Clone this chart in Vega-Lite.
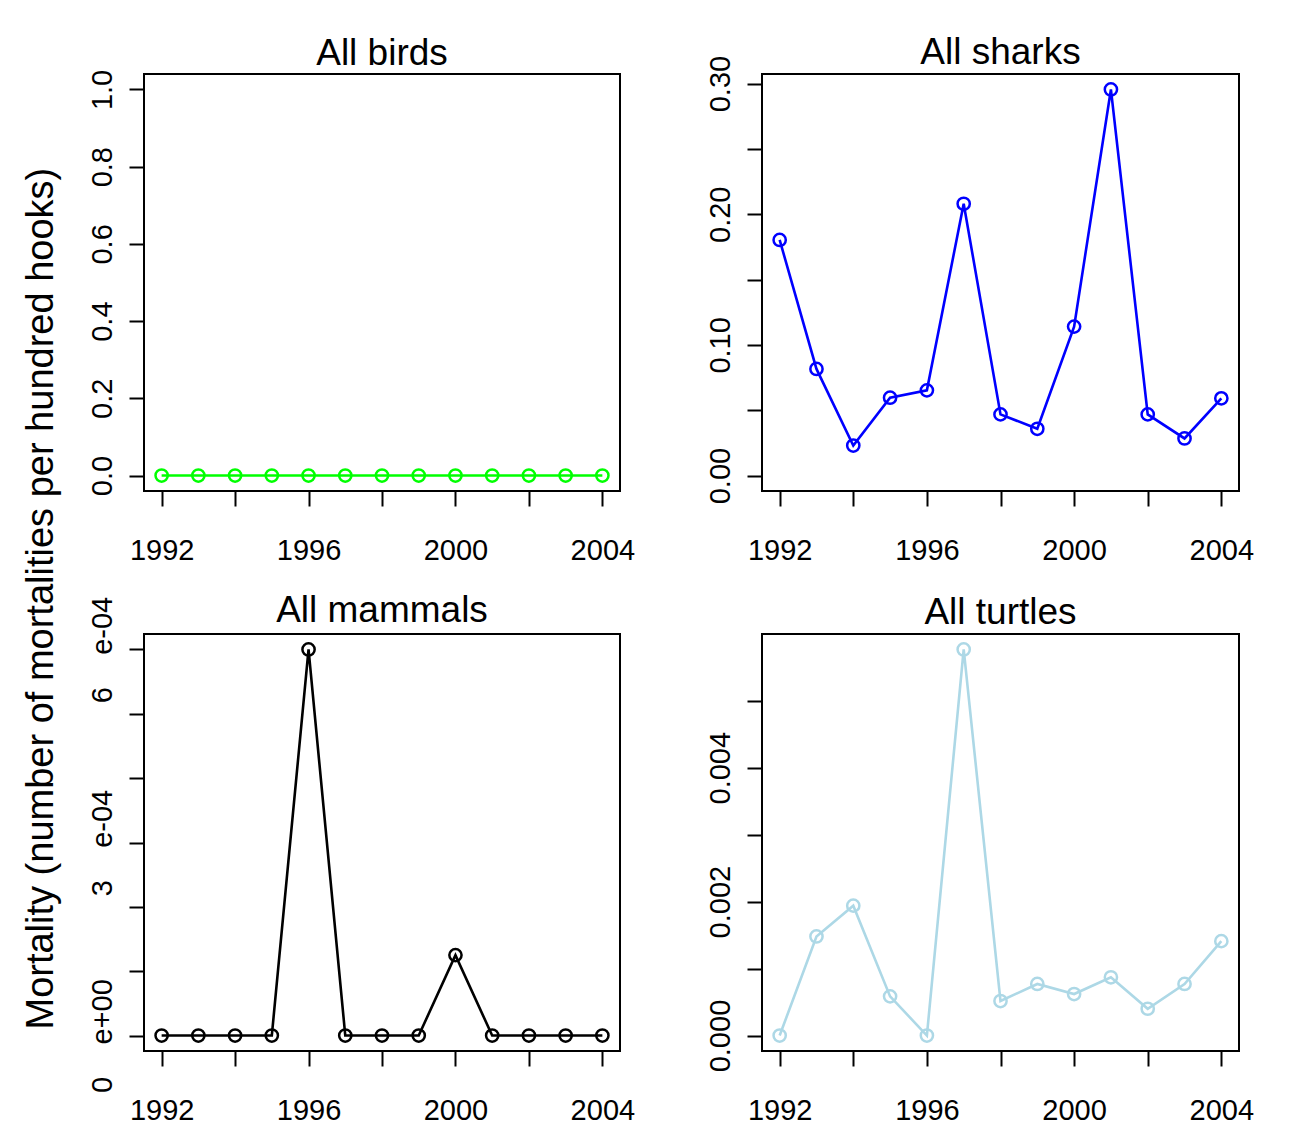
{
  "$schema": "https://vega.github.io/schema/vega-lite/v6.json",
  "background": "white",
  "padding": {"left": 22, "top": 33, "right": 5, "bottom": 0},
  "title": {"text": "Mortality (number of mortalities per hundred hooks)", "orient": "left", "anchor": "middle", "fontSize": 38, "font": "Liberation Sans", "fontWeight": "normal", "color": "black", "offset": 26, "dx": -19},
  "data": {"values": [
    {"panel": "birds", "year": 1992, "value": 0}, {"panel": "birds", "year": 1993, "value": 0}, {"panel": "birds", "year": 1994, "value": 0}, {"panel": "birds", "year": 1995, "value": 0}, {"panel": "birds", "year": 1996, "value": 0}, {"panel": "birds", "year": 1997, "value": 0}, {"panel": "birds", "year": 1998, "value": 0}, {"panel": "birds", "year": 1999, "value": 0}, {"panel": "birds", "year": 2000, "value": 0}, {"panel": "birds", "year": 2001, "value": 0}, {"panel": "birds", "year": 2002, "value": 0}, {"panel": "birds", "year": 2003, "value": 0}, {"panel": "birds", "year": 2004, "value": 0},
    {"panel": "sharks", "year": 1992, "value": 0.1803}, {"panel": "sharks", "year": 1993, "value": 0.0816}, {"panel": "sharks", "year": 1994, "value": 0.023}, {"panel": "sharks", "year": 1995, "value": 0.0596}, {"panel": "sharks", "year": 1996, "value": 0.0652}, {"panel": "sharks", "year": 1997, "value": 0.208}, {"panel": "sharks", "year": 1998, "value": 0.0468}, {"panel": "sharks", "year": 1999, "value": 0.0358}, {"panel": "sharks", "year": 2000, "value": 0.114}, {"panel": "sharks", "year": 2001, "value": 0.2955}, {"panel": "sharks", "year": 2002, "value": 0.0468}, {"panel": "sharks", "year": 2003, "value": 0.0284}, {"panel": "sharks", "year": 2004, "value": 0.0591},
    {"panel": "mammals", "year": 1992, "value": 0}, {"panel": "mammals", "year": 1993, "value": 0}, {"panel": "mammals", "year": 1994, "value": 0}, {"panel": "mammals", "year": 1995, "value": 0}, {"panel": "mammals", "year": 1996, "value": 0.0006}, {"panel": "mammals", "year": 1997, "value": 0}, {"panel": "mammals", "year": 1998, "value": 0}, {"panel": "mammals", "year": 1999, "value": 0}, {"panel": "mammals", "year": 2000, "value": 0.000125}, {"panel": "mammals", "year": 2001, "value": 0}, {"panel": "mammals", "year": 2002, "value": 0}, {"panel": "mammals", "year": 2003, "value": 0}, {"panel": "mammals", "year": 2004, "value": 0},
    {"panel": "turtles", "year": 1992, "value": 0}, {"panel": "turtles", "year": 1993, "value": 0.00148}, {"panel": "turtles", "year": 1994, "value": 0.00194}, {"panel": "turtles", "year": 1995, "value": 0.000585}, {"panel": "turtles", "year": 1996, "value": 0}, {"panel": "turtles", "year": 1997, "value": 0.005766}, {"panel": "turtles", "year": 1998, "value": 0.000515}, {"panel": "turtles", "year": 1999, "value": 0.00077}, {"panel": "turtles", "year": 2000, "value": 0.00062}, {"panel": "turtles", "year": 2001, "value": 0.00087}, {"panel": "turtles", "year": 2002, "value": 0.0004}, {"panel": "turtles", "year": 2003, "value": 0.00077}, {"panel": "turtles", "year": 2004, "value": 0.00141}
  ]},
  "columns": 2,
  "spacing": {"row": 143, "column": 142},
  "bounds": "flush",
  "concat": [
    {
      "width": 476, "height": 417,
      "title": {"text": "All birds", "offset": -4},
      "transform": [{"filter": "datum.panel == 'birds'"}],
      "encoding": {
        "x": {"field": "year", "type": "quantitative", "scale": {"domain": [1991.52, 2004.48], "nice": false, "zero": false}, "axis": {"title": null, "values": [1992, 1994, 1996, 1998, 2000, 2002, 2004], "format": "d", "labelExpr": "datum.value % 4 == 0 ? datum.label : ''"}},
        "y": {"field": "value", "type": "quantitative", "scale": {"domain": [-0.04, 1.04], "nice": false, "zero": false}, "axis": {"title": null, "values": [0, 0.2, 0.4, 0.6, 0.8, 1.0], "format": ".1f"}}
      },
      "layer": [
        {"mark": {"type": "line", "color": "#00FF00", "strokeWidth": 2.6}},
        {"mark": {"type": "point", "shape": "circle", "filled": false, "color": "#00FF00", "strokeWidth": 2.5, "size": 150, "opacity": 1}}
      ]
    },
    {
      "width": 477, "height": 417,
      "title": {"text": "All sharks", "offset": -17},
      "transform": [{"filter": "datum.panel == 'sharks'"}],
      "encoding": {
        "x": {"field": "year", "type": "quantitative", "scale": {"domain": [1991.52, 2004.48], "nice": false, "zero": false}, "axis": {"title": null, "values": [1992, 1994, 1996, 1998, 2000, 2002, 2004], "format": "d", "labelExpr": "datum.value % 4 == 0 ? datum.label : ''"}},
        "y": {"field": "value", "type": "quantitative", "scale": {"domain": [-0.01182, 0.30732], "nice": false, "zero": false}, "axis": {"title": null, "values": [0, 0.05, 0.1, 0.15, 0.2, 0.25, 0.3], "labelExpr": "abs(datum.value * 10 - round(datum.value * 10)) < 0.000001 ? format(datum.value, '.2f') : ''"}}
      },
      "layer": [
        {"mark": {"type": "line", "color": "#0000FF", "strokeWidth": 2.6}},
        {"mark": {"type": "point", "shape": "circle", "filled": false, "color": "#0000FF", "strokeWidth": 2.5, "size": 150, "opacity": 1}}
      ]
    },
    {
      "width": 476, "height": 417,
      "title": {"text": "All mammals", "offset": -34},
      "transform": [{"filter": "datum.panel == 'mammals'"}],
      "encoding": {
        "x": {"field": "year", "type": "quantitative", "scale": {"domain": [1991.52, 2004.48], "nice": false, "zero": false}, "axis": {"title": null, "values": [1992, 1994, 1996, 1998, 2000, 2002, 2004], "format": "d", "labelExpr": "datum.value % 4 == 0 ? datum.label : ''"}},
        "y": {"field": "value", "type": "quantitative", "scale": {"domain": [-0.000024, 0.000624], "nice": false, "zero": false}, "axis": {"title": null, "values": [0, 0.0001, 0.0002, 0.0003, 0.0004, 0.0005, 0.0006], "labelExpr": "abs(datum.value) < 0.00000001 ? '0\u00a0\u00a0\u00a0\u00a0e+00' : abs(datum.value - 0.0003) < 0.00000001 ? '3\u00a0\u00a0\u00a0\u00a0e-04' : abs(datum.value - 0.0006) < 0.00000001 ? '6\u00a0\u00a0\u00a0\u00a0e-04' : ''"}}
      },
      "layer": [
        {"mark": {"type": "line", "color": "#000000", "strokeWidth": 2.6}},
        {"mark": {"type": "point", "shape": "circle", "filled": false, "color": "#000000", "strokeWidth": 2.5, "size": 150, "opacity": 1}}
      ]
    },
    {
      "width": 477, "height": 417,
      "title": {"text": "All turtles", "offset": 2},
      "transform": [{"filter": "datum.panel == 'turtles'"}],
      "encoding": {
        "x": {"field": "year", "type": "quantitative", "scale": {"domain": [1991.52, 2004.48], "nice": false, "zero": false}, "axis": {"title": null, "values": [1992, 1994, 1996, 1998, 2000, 2002, 2004], "format": "d", "labelExpr": "datum.value % 4 == 0 ? datum.label : ''"}},
        "y": {"field": "value", "type": "quantitative", "scale": {"domain": [-0.000231, 0.005997], "nice": false, "zero": false}, "axis": {"title": null, "values": [0, 0.001, 0.002, 0.003, 0.004, 0.005], "labelExpr": "abs(datum.value * 500 - round(datum.value * 500)) < 0.000001 ? format(datum.value, '.3f') : ''"}}
      },
      "layer": [
        {"mark": {"type": "line", "color": "#ADD8E6", "strokeWidth": 2.6}},
        {"mark": {"type": "point", "shape": "circle", "filled": false, "color": "#ADD8E6", "strokeWidth": 2.5, "size": 150, "opacity": 1}}
      ]
    }
  ],
  "config": {
    "font": "Liberation Sans",
    "view": {"stroke": "black", "strokeWidth": 2, "fill": "white"},
    "axis": {"grid": false, "domain": false, "tickColor": "black", "tickWidth": 2, "tickSize": 15, "labelFont": "Liberation Sans", "labelFontSize": 29, "labelColor": "black", "labelOverlap": false, "labelFlush": false},
    "axisX": {"labelPadding": 30, "labelAngle": 0},
    "axisY": {"labelAngle": -90, "labelAlign": "center", "labelBaseline": "bottom", "labelPadding": 12},
    "title": {"fontSize": 37, "fontWeight": "normal", "anchor": "middle", "color": "black", "font": "Liberation Sans"}
  }
}
